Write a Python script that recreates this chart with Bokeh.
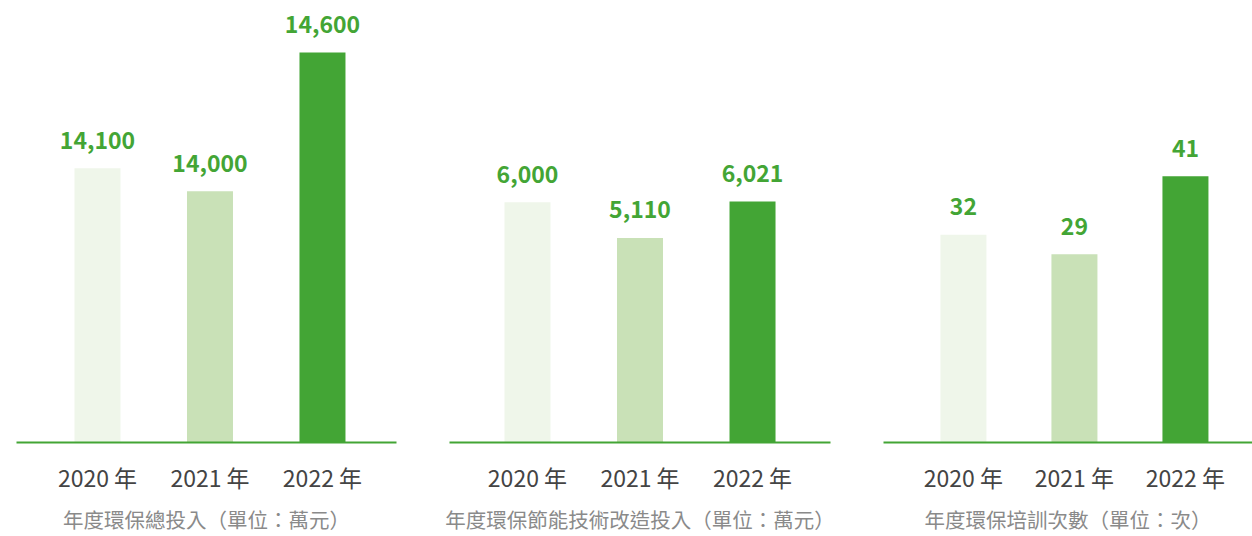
from bokeh.plotting import figure
from bokeh.layouts import row
from bokeh.models import Range1d, FixedTicker, ColumnDataSource
from bokeh.embed import file_html
from bokeh.resources import INLINE
from bokeh.core.properties import value

years = ["2020 年", "2021 年", "2022 年"]
bar_colors = ["#eff6ea", "#c9e1b7", "#43a535"]

invest_total = [14100, 14000, 14600]
invest_tech = [6000, 5110, 6021]
training = [32, 29, 41]

subtitles = [
    "年度環保總投入（單位：萬元）",
    "年度環保節能技術改造投入（單位：萬元）",
    "年度環保培訓次數（單位：次）",
]

FONT = "Noto Sans CJK TC"
GREEN = "#43a535"

def panel(vals, subtitle, y_start, y_end, x_start, x_end, width, left, right, px_unit):
    xs = list(range(len(vals)))
    src = ColumnDataSource(dict(
        x=xs, top=vals, color=bar_colors,
        label=[f"{v:,}" for v in vals],
    ))
    p = figure(width=width, height=536, output_backend="svg", toolbar_location=None,
               x_range=Range1d(x_start, x_end), y_range=Range1d(y_start, y_end),
               y_axis_location=None, min_border_left=left, min_border_right=right,
               min_border_top=0, min_border_bottom=94)
    p.vbar(x="x", top="top", bottom=y_start, width=46 / px_unit, color="color",
           line_color=None, source=src)
    p.text(x="x", y="top", text="label", source=src, text_align="center",
           text_baseline="alphabetic", y_offset=-28, text_color=GREEN,
           text_font=value(FONT), text_font_size="23px", text_font_style="bold")
    p.xgrid.visible = False
    p.ygrid.visible = False
    p.outline_line_color = None
    ax = p.xaxis[0]
    ax.ticker = FixedTicker(ticks=xs)
    ax.major_label_overrides = {i: years[i] for i in xs}
    ax.major_tick_line_color = None
    ax.major_tick_out = 0
    ax.major_tick_in = 0
    ax.minor_tick_line_color = None
    ax.axis_line_color = GREEN
    ax.axis_line_width = 2
    ax.major_label_standoff = 17
    ax.major_label_text_font = FONT
    ax.major_label_text_font_size = "23px"
    ax.major_label_text_color = "#444444"
    ax.axis_label = subtitle
    ax.axis_label_standoff = 7
    ax.axis_label_text_font = FONT
    ax.axis_label_text_font_size = "20.5px"
    ax.axis_label_text_font_style = "normal"
    ax.axis_label_text_color = "#8a8a8a"
    return p

p1 = panel(invest_total, subtitles[0], 12914, 14825, -0.72, 2.658, 422, 16, 26, 112.5)
p2 = panel(invest_tech, subtitles[1], 0, 11039, -0.693, 2.693, 434, 27, 26, 112.5)
p3 = panel(training, subtitles[2], 0, 68.05, -0.72, 2.604, 396, 27, 0, 111)

layout = row(p1, p2, p3, spacing=0)
open("out.html", "w").write(file_html(layout, INLINE))
